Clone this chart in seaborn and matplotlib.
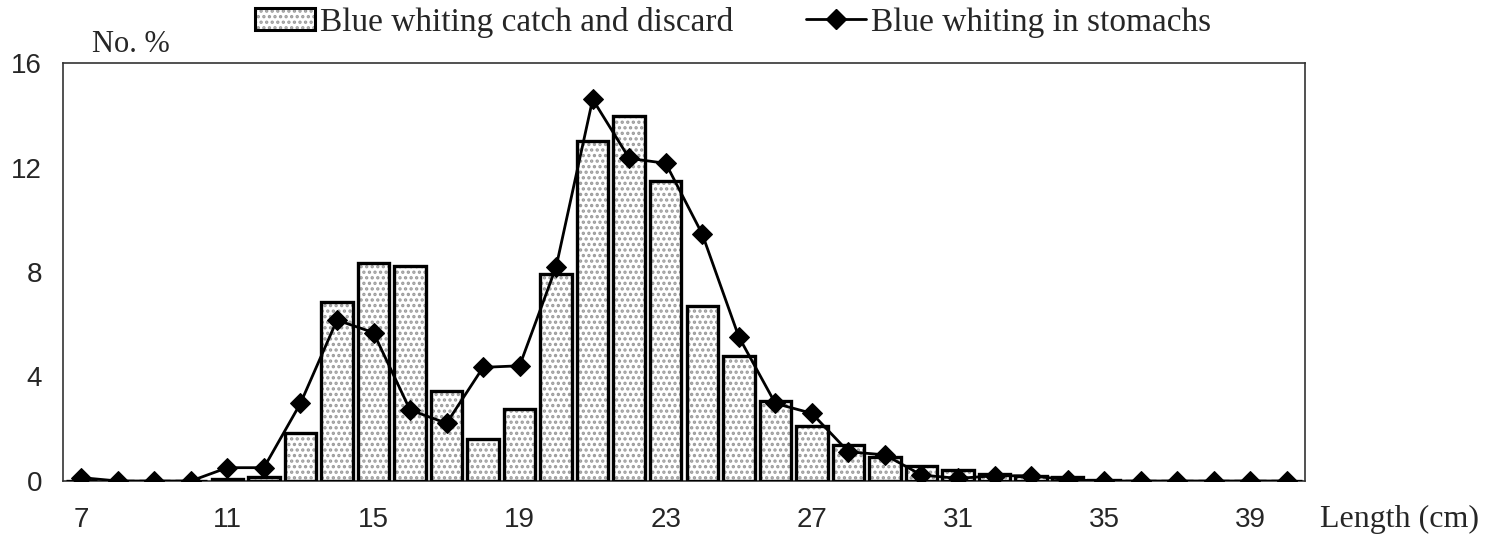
import matplotlib
matplotlib.use("Agg")
import matplotlib.pyplot as plt
import seaborn as sns
import pandas as pd
from matplotlib.patches import Patch
from matplotlib.lines import Line2D
from matplotlib.legend_handler import HandlerTuple
from matplotlib.ticker import FixedLocator

# Length classes (cm)
lengths = list(range(7, 41))
# Length distribution of blue whiting in catch and discard (No. %)
catch_discard = [0, 0, 0, 0, 0.07, 0.16, 1.85, 6.84, 8.33, 8.24, 3.44, 1.61, 2.77,
                 7.91, 13.0, 13.98, 11.48, 6.7, 4.8, 3.05, 2.12, 1.36, 0.9, 0.56,
                 0.42, 0.28, 0.2, 0.16, 0.05, 0, 0, 0, 0, 0]
# Length distribution of blue whiting found in stomachs (No. %)
in_stomachs = [0.13, 0, 0, 0, 0.51, 0.51, 2.97, 6.16, 5.68, 2.72, 2.21, 4.35, 4.41,
               8.2, 14.61, 12.35, 12.16, 9.45, 5.52, 2.97, 2.59, 1.12, 1.0, 0.23,
               0.1, 0.2, 0.2, 0.05, 0, 0, 0, 0, 0, 0]
x_tick_labels = [7, 11, 15, 19, 23, 27, 31, 35, 39]
y_tick_labels = [0, 4, 8, 12, 16]

legend_bar = "Blue whiting catch and discard"
legend_line = "Blue whiting in stomachs"

df = pd.DataFrame({"length": lengths, "catch": catch_discard, "stomach": in_stomachs})

sns.set_style("white")
plt.rcParams["font.family"] = ["Liberation Serif", "DejaVu Serif"]
plt.rcParams["hatch.linewidth"] = 1.6

fig = plt.figure(figsize=(14.88, 5.35), dpi=100)
ax = fig.add_axes([63 / 1488, 1 - 481 / 535, (1305 - 63) / 1488, (481 - 63) / 535])

dot_color = "#9a9a9a"
# dotted fill layer
sns.barplot(data=df, x="length", y="catch", native_scale=True, width=0.86,
            color="white", edgecolor=dot_color, linewidth=0, hatch="...",
            ax=ax, zorder=2)
# black outline layer
sns.barplot(data=df, x="length", y="catch", native_scale=True, width=0.86,
            fill=False, edgecolor="black", linewidth=2.4, ax=ax, zorder=3)
# stomach contents line
sns.lineplot(data=df, x="length", y="stomach", color="black", linewidth=2.0,
             marker="D", markersize=10.5, markeredgecolor="black",
             markerfacecolor="black", ax=ax, zorder=4)

ax.set_xlim(6.5, 40.5)
ax.set_ylim(0, 16)
ax.set_xlabel("")
ax.set_ylabel("")

ax.xaxis.set_major_locator(FixedLocator(x_tick_labels))
ax.set_xticklabels([str(v) for v in x_tick_labels])
ax.xaxis.set_minor_locator(FixedLocator([v - 0.5 for v in lengths] + [40.5]))
ax.yaxis.set_major_locator(FixedLocator(y_tick_labels))
ax.set_yticklabels([str(v) for v in y_tick_labels])
ax.yaxis.set_minor_locator(FixedLocator([2, 6, 10, 14]))

for lab in ax.get_xticklabels() + ax.get_yticklabels():
    lab.set_fontfamily("Liberation Sans")
    lab.set_fontsize(20)

ax.tick_params(axis="x", which="major", length=0, pad=19)
ax.tick_params(axis="x", which="minor", direction="out", length=6, width=1, color="#555555")
ax.tick_params(axis="y", which="major", direction="out", length=8, width=1, pad=7)
ax.tick_params(axis="y", which="minor", direction="in", length=5, width=1, color="#555555")

for s in ax.spines.values():
    s.set_visible(True)
    s.set_color("#333333")
    s.set_linewidth(1.2)

# legend
bar_handle = (Patch(facecolor="white", edgecolor=dot_color, hatch="...", linewidth=0),
              Patch(facecolor="none", edgecolor="black", linewidth=2.2))
line_handle = Line2D([], [], color="black", linewidth=2.0, marker="D", markersize=10.5)
fig.legend([bar_handle, line_handle], [legend_bar, legend_line],
           handler_map={tuple: HandlerTuple(ndivide=1, pad=0)},
           loc="center", bbox_to_anchor=(733 / 1488, 1 - 22 / 535), ncol=2,
           frameon=False, fontsize=24, handlelength=1.8, handleheight=0.65,
           handletextpad=0.15, columnspacing=2.2, borderaxespad=0)

fig.text(131 / 1488, 1 - 45 / 535, "No. %", ha="center", va="center", fontsize=22)
fig.text(1399 / 1488, 1 - 519 / 535, "Length (cm)", ha="center", va="center", fontsize=23)

fig.savefig("out.png", dpi=100)
